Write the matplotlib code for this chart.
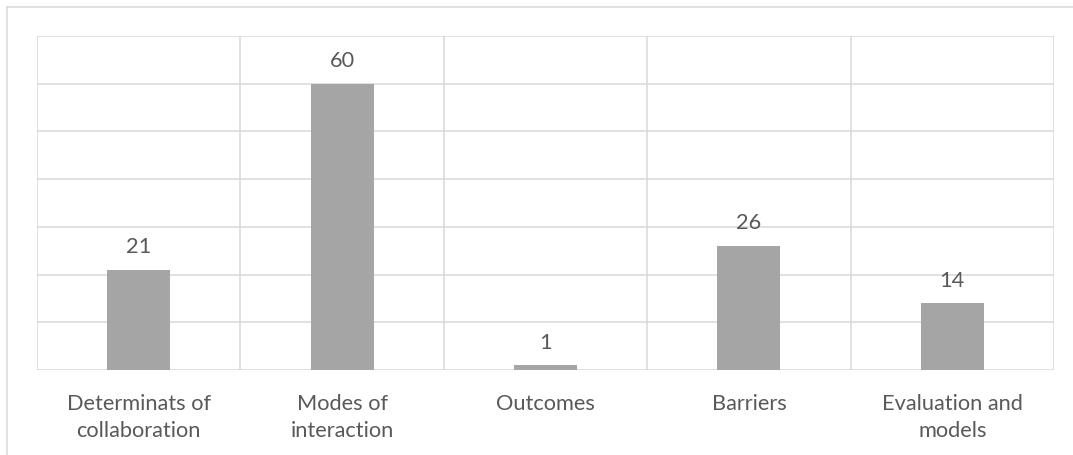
import matplotlib
matplotlib.use("Agg")
import matplotlib.pyplot as plt
from matplotlib.lines import Line2D
import numpy as np

categories = ["Determinats of\ncollaboration", "Modes of\ninteraction", "Outcomes",
              "Barriers", "Evaluation and\nmodels"]
values = [21, 60, 1, 26, 14]
y_max = 70
y_step = 10

grid_color = "#D9D9D9"
bar_color = "#A5A5A5"
text_color = "#595959"
font = ["Lato", "DejaVu Sans"]
fsize = 15.7

W, H = 1073, 455
fig = plt.figure(figsize=(W / 100, H / 100), dpi=100)
ax = fig.add_axes([37 / W, 1 - 370 / H, (1054 - 37) / W, (370 - 36) / H])

x = np.arange(len(categories))
ax.bar(x, values, width=0.31, color=bar_color, zorder=3)

ax.set_xlim(-0.5, len(categories) - 0.5)
ax.set_ylim(0, y_max)

# horizontal gridlines and vertical category separators
for yv in np.arange(y_step, y_max + 1, y_step):
    ax.axhline(yv, color=grid_color, lw=1.1, zorder=1)
for xv in np.arange(-0.5, len(categories), 1.0):
    ax.axvline(xv, color=grid_color, lw=1.1, zorder=1)
ax.axhline(0, color=grid_color, lw=1.1, zorder=2)

for s in ax.spines.values():
    s.set_visible(False)
ax.set_xticks([])
ax.set_yticks([])

# value labels
for xi, v in zip(x, values):
    ax.annotate(str(v), (xi, v), xytext=(0, 12), textcoords="offset points",
                ha="center", va="baseline", fontsize=fsize, color=text_color, family=font)

# category labels
for xi, c in zip(x, categories):
    ax.annotate(c, (xi, 0), xytext=(0, -17.5), textcoords="offset points",
                ha="center", va="top", fontsize=fsize, color=text_color, family=font,
                linespacing=1.4)

# outer chart frame (top and left edges)
fig.add_artist(Line2D([7 / W, 7 / W], [0, 1 - 7 / H], transform=fig.transFigure,
                      color=grid_color, lw=1.1))
fig.add_artist(Line2D([7 / W, 1], [1 - 7 / H, 1 - 7 / H], transform=fig.transFigure,
                      color=grid_color, lw=1.1))

fig.savefig("out.png", dpi=100)
